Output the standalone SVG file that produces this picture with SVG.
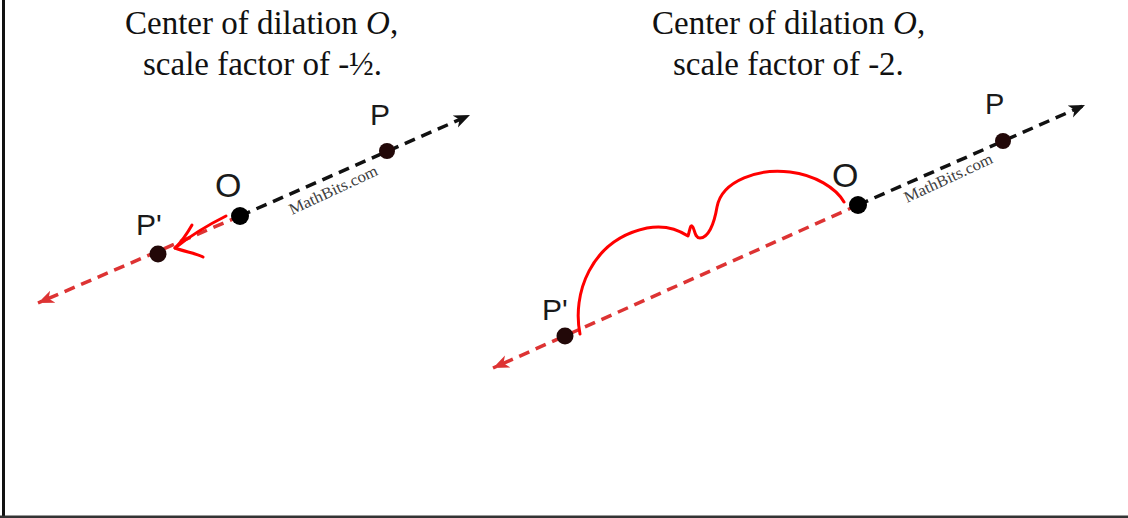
<svg xmlns="http://www.w3.org/2000/svg" width="1128" height="518" viewBox="0 0 1128 518">
<style>
.title{font-family:"Liberation Serif","Times New Roman",serif;font-size:33px;fill:#111}
.lbl{font-family:"Liberation Sans",Arial,sans-serif;fill:#1a1a1a}
.wm{font-family:"Liberation Serif","Times New Roman",serif;font-size:16px;fill:#404040}
.blk{stroke:#111;stroke-width:3.5;stroke-dasharray:11 7;fill:none}
.red{stroke:#dd3333;stroke-width:3.5;stroke-dasharray:11 7;fill:none}
.hand{stroke:#ff0000;stroke-width:3;fill:none;stroke-linecap:round;stroke-linejoin:round}
.dotO{fill:#000}
.dotP{fill:#220808}
</style>
<defs>
<marker id="ahb" markerUnits="userSpaceOnUse" markerWidth="18" markerHeight="16" refX="16" refY="7" orient="auto">
<path d="M0,0.5 L16,7 L0,13.5 L4.5,7 Z" fill="#111"/>
</marker>
<marker id="ahr" markerUnits="userSpaceOnUse" markerWidth="18" markerHeight="16" refX="16" refY="7" orient="auto">
<path d="M0,0.5 L16,7 L0,13.5 L4.5,7 Z" fill="#dd3333"/>
</marker>
</defs>
<rect width="1128" height="518" fill="#fff"/>
<line x1="3.5" y1="0" x2="3.5" y2="518" stroke="#111" stroke-width="3"/>
<line x1="0" y1="516.8" x2="1128" y2="516.8" stroke="#333" stroke-width="2.5"/>

<g id="titles">
<text class="title" x="125" y="34">Center of dilation <tspan font-style="italic">O</tspan>,</text>
<text class="title" x="143" y="75">scale factor of -½.</text>
<text class="title" x="652" y="34">Center of dilation <tspan font-style="italic">O</tspan>,</text>
<text class="title" x="673" y="75">scale factor of -2.</text>
</g>

<g id="connectors">
<line class="blk" x1="240" y1="216" x2="470" y2="115" marker-end="url(#ahb)"/>
<line class="red" x1="240" y1="216" x2="38" y2="303" marker-end="url(#ahr)"/>
<line class="blk" x1="858" y1="205" x2="1085" y2="105" marker-end="url(#ahb)"/>
<line class="red" x1="858" y1="205" x2="493" y2="368" marker-end="url(#ahr)"/>
<path class="hand" d="M226,216 C210,224 190,236 175,248"/>
<path class="hand" d="M192,225 C188,232 182,241 176,247"/>
<path class="hand" d="M175,248 C186,252 195,253 203,257"/>
<path class="hand" d="M580,334 C572,295 590,240 647,228 C668,224 682,232 688,236 C690,230 690,225 692,226 C695,228 694,238 700,238 C708,238 714,225 717,207 C722,180 760,168 790,172 C815,175 836,188 844,202"/>
</g>

<g id="watermarks">
<text class="wm" transform="translate(292,215) rotate(-25)" textLength="96" lengthAdjust="spacingAndGlyphs">MathBits.com</text>
<text class="wm" transform="translate(907,203) rotate(-25)" textLength="96" lengthAdjust="spacingAndGlyphs">MathBits.com</text>
</g>

<g id="left-O"><circle class="dotO" cx="240" cy="216" r="9"/><text class="lbl" x="215" y="197" font-size="34">O</text></g>
<g id="left-P"><circle class="dotP" cx="387" cy="151" r="8"/><text class="lbl" x="370" y="125" font-size="30">P</text></g>
<g id="left-Pprime"><circle class="dotP" cx="158" cy="254" r="8.5"/><text class="lbl" x="136" y="235" font-size="30">P'</text></g>

<g id="right-O"><circle class="dotO" cx="858" cy="205" r="9"/><text class="lbl" x="832" y="187" font-size="34">O</text></g>
<g id="right-P"><circle class="dotP" cx="1003" cy="141" r="8"/><text class="lbl" x="985" y="114" font-size="29">P</text></g>
<g id="right-Pprime"><circle class="dotP" cx="565" cy="336" r="8.5"/><text class="lbl" x="542" y="320" font-size="30">P'</text></g>
</svg>
